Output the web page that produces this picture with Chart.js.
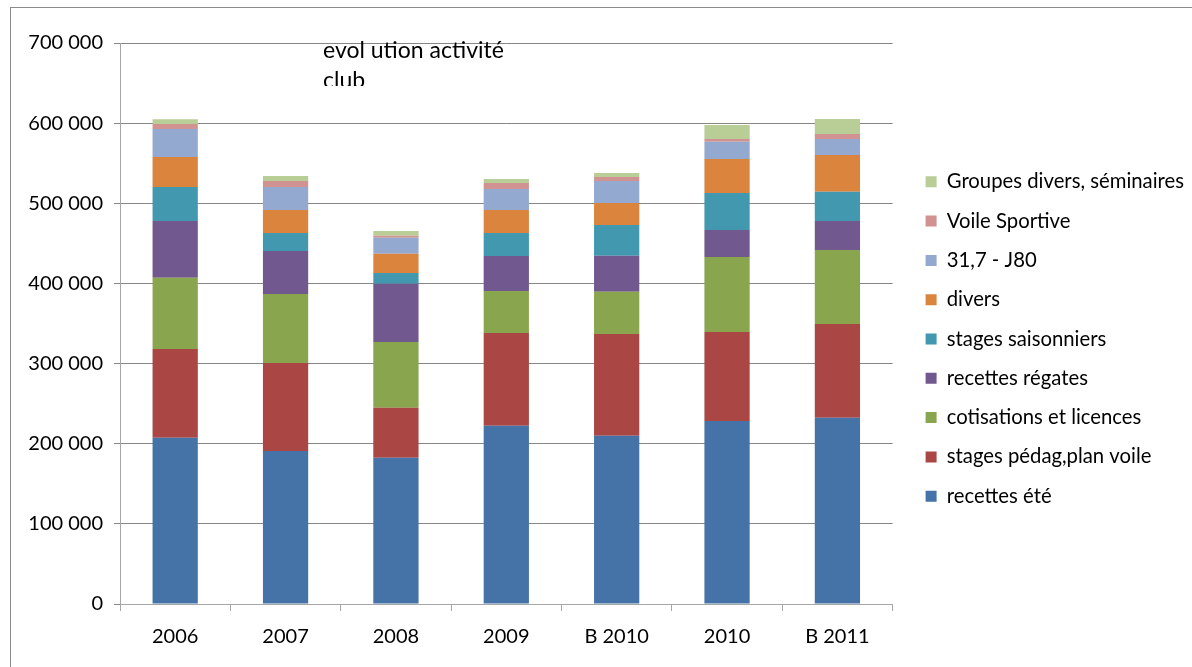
<!DOCTYPE html>
<html>
<head>
<meta charset="utf-8">
<script src="https://cdn.jsdelivr.net/npm/chart.js@4.4.0/dist/chart.umd.min.js"></script>
<style>
  body { margin: 0; background: #fff; }
  #wrap { position: relative; width: 1192px; height: 667px; overflow: hidden; }
  #frame { position: absolute; left: 10px; top: 7px; width: 1300px; height: 800px;
           border-left: 1px solid #8a8a8a; border-top: 1px solid #8a8a8a; }
  #title { position: absolute; left: 323px; top: 34px; height: 52px; overflow: hidden;
           font-family: Lato, sans-serif; font-size: 23px; line-height: 30px; color: #000; width: 240px; }
</style>
</head>
<body>
<div id="wrap">
  <div id="frame"></div>
  <canvas id="activiteChart" width="1192" height="667"></canvas>
  <div id="title">evol ution activité<br>club</div>
</div>
<script>
  const years = ["2006", "2007", "2008", "2009", "B 2010", "2010", "B 2011"];

  const recettesEte = [207500, 190900, 182600, 222500, 210000, 228400, 232500];
  const stagesPedag = [110700, 109800, 62400, 115700, 126900, 111000, 116900];
  const cotisations = [88800, 86100, 82000, 52400, 52600, 93600, 92300];
  const recettesRegates = [70900, 53700, 72500, 43600, 45100, 33700, 36200];
  const stagesSaisonniers = [42400, 22400, 13500, 28700, 38300, 46200, 36600];
  const divers = [37500, 28700, 24100, 28700, 27500, 42400, 45800];
  const j80 = [34900, 28700, 19900, 26200, 27400, 21600, 19900];
  const voileSportive = [6300, 7500, 2600, 7500, 5000, 3300, 6300];
  const groupesDivers = [6000, 6200, 5800, 5000, 5000, 17500, 18700];

  const yTicks = [0, 100000, 200000, 300000, 400000, 500000, 600000, 700000];

  function fmt(v) {
    return v.toString().replace(/\B(?=(\d{3})+(?!\d))/g, " ");
  }

  function ds(label, data, color) {
    return { label: label, data: data, backgroundColor: color, borderWidth: 0,
             barPercentage: 0.41, categoryPercentage: 1.0 };
  }

  const axisFont = { family: "Lato, sans-serif", size: 20 };
  const legendFont = { family: "Lato, sans-serif", size: 20.3 };

  // nudge the legend to where Excel put it
  const moveLegend = {
    id: "moveLegend",
    afterLayout(chart) {
      const lg = chart.legend;
      const pad = lg.options.labels.padding;
      const dx = chart.chartArea.right + 33 - pad - lg.left;
      lg.left += dx;
      lg.right += dx;
      lg.top -= 16;
      lg.bottom -= 16;
    },
  };

  const ctx = document.getElementById("activiteChart").getContext("2d");
  const myChart = new Chart(ctx, {
    type: "bar",
    data: {
      labels: years,
      datasets: [
        ds("recettes été", recettesEte, "#4572A7"),
        ds("stages pédag,plan voile", stagesPedag, "#AA4643"),
        ds("cotisations et licences", cotisations, "#89A54E"),
        ds("recettes régates", recettesRegates, "#71588F"),
        ds("stages saisonniers", stagesSaisonniers, "#4198AF"),
        ds("divers", divers, "#DB843D"),
        ds("31,7 - J80", j80, "#93A9CF"),
        ds("Voile Sportive", voileSportive, "#D19392"),
        ds("Groupes divers, séminaires", groupesDivers, "#B9CD96"),
      ],
    },
    plugins: [moveLegend],
    options: {
      responsive: false,
      animation: false,
      layout: { padding: { left: 10, top: 43, right: 12, bottom: 0 } },
      plugins: {
        tooltip: { enabled: false },
        legend: {
          position: "right",
          reverse: true,
          labels: {
            boxWidth: 11,
            boxHeight: 11,
            padding: 19,
            color: "#000",
            font: legendFont,
          },
        },
      },
      scales: {
        x: {
          stacked: true,
          afterFit: (scale) => { scale.height = 63; },
          grid: { offset: true, drawOnChartArea: false, tickLength: 7, color: "#a6a6a6" },
          border: { color: "#a6a6a6" },
          ticks: { color: "#000", font: axisFont, padding: 14 },
        },
        y: {
          stacked: true,
          min: 0,
          max: 700000,
          afterBuildTicks: (scale) => { scale.ticks = yTicks.map((v) => ({ value: v })); },
          afterFit: (scale) => { scale.width = 110; },
          grid: { color: "#868686", tickLength: 6 },
          border: { color: "#a6a6a6" },
          ticks: { color: "#000", font: axisFont, padding: 11, callback: (v) => fmt(v) },
        },
      },
    },
  });
</script>
</body>
</html>
